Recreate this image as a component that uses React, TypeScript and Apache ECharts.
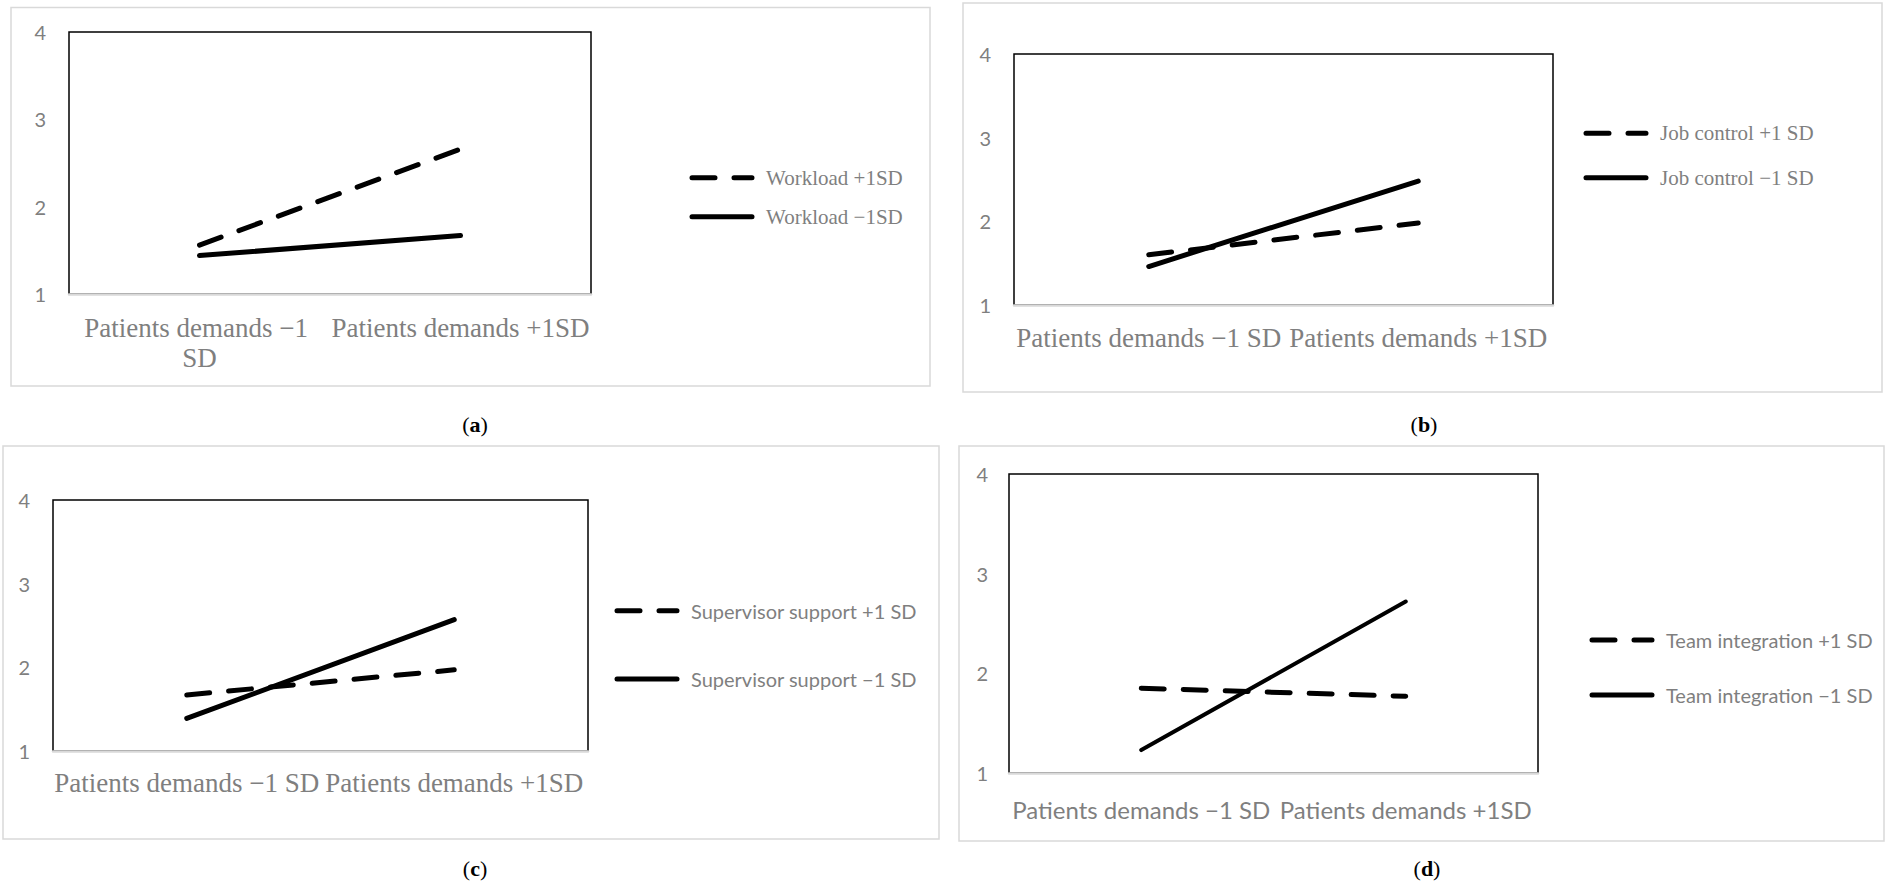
import React, { useEffect, useRef } from "react";
import * as echarts from "echarts";

// ---- data ----
const categories = ["Patients demands −1 SD", "Patients demands +1SD"];
const yMin = 1;
const yMax = 4;
const yStep = 1;

const workloadHigh = [1.56, 2.66];
const workloadLow = [1.44, 1.67];
const jobControlHigh = [1.6, 1.98];
const jobControlLow = [1.46, 2.48];
const supervisorHigh = [1.67, 1.97];
const supervisorLow = [1.39, 2.57];
const teamHigh = [1.85, 1.77];
const teamLow = [1.23, 2.72];

const namesA = ["Workload +1SD", "Workload −1SD"];
const namesB = ["Job control +1 SD", "Job control −1 SD"];
const namesC = ["Supervisor support +1 SD", "Supervisor support −1 SD"];
const namesD = ["Team integration +1 SD", "Team integration −1 SD"];
const captions = ["a", "b", "c", "d"];

// ---- layout ----
const SERIF = "'Liberation Serif', 'Times New Roman', serif";
const SANS = "Lato, 'Noto Sans', sans-serif";
const GRAY = "#7f7f7f";
const DASH = [23, 19];

const panels = [
  {
    high: workloadHigh, low: workloadLow, names: namesA,
    grid: { left: 69, top: 32, width: 522, height: 262 },
    frame: { x: 11, y: 7.5, width: 919, height: 378.5 },
    caption: { x: 475, y: 424 },
    legend: { left: 689.5, top: 165.7, gap: 15, font: SERIF, size: 21 },
    xFont: SERIF, xSize: 27, xMargin: 19, wrap: true, yLabelMargin: 23, lowWidth: 5,
  },
  {
    high: jobControlHigh, low: jobControlLow, names: namesB,
    grid: { left: 1014, top: 54, width: 539, height: 251 },
    frame: { x: 963, y: 3, width: 919, height: 389 },
    caption: { x: 1424, y: 424 },
    legend: { left: 1583.5, top: 121.3, gap: 20.4, font: SERIF, size: 21 },
    xFont: SERIF, xSize: 27, xMargin: 18, wrap: false, yLabelMargin: 23, lowWidth: 5,
  },
  {
    high: supervisorHigh, low: supervisorLow, names: namesC,
    grid: { left: 53, top: 500, width: 535, height: 251 },
    frame: { x: 3, y: 446, width: 936, height: 393 },
    caption: { x: 475, y: 868 },
    legend: { left: 614.5, top: 598.7, gap: 44.3, font: SANS, size: 20 },
    xFont: SERIF, xSize: 27, xMargin: 17, wrap: false, yLabelMargin: 23, lowWidth: 5,
  },
  {
    high: teamHigh, low: teamLow, names: namesD,
    grid: { left: 1009, top: 474, width: 529, height: 299 },
    frame: { x: 959, y: 446, width: 925, height: 395 },
    caption: { x: 1427, y: 868 },
    legend: { left: 1589.5, top: 628, gap: 31, font: SANS, size: 20 },
    xFont: SANS, xSize: 24, xMargin: 21, wrap: false, yLabelMargin: 21, lowWidth: 4,
  },
];

function buildOption() {
  const grid: any[] = [];
  const xAxis: any[] = [];
  const yAxis: any[] = [];
  const series: any[] = [];
  const legend: any[] = [];
  const graphic: any[] = [];

  panels.forEach((p, i) => {
    grid.push({
      ...p.grid,
      show: true,
      borderColor: "#000",
      borderWidth: 1.5,
      backgroundColor: "transparent",
      containLabel: false,
    });
    xAxis.push({
      type: "category",
      gridIndex: i,
      data: categories,
      boundaryGap: true,
      z: 5,
      axisTick: { show: false },
      axisLine: { show: true, lineStyle: { color: "#d9d9d9", width: 2.5 } },
      axisLabel: {
        interval: 0,
        color: GRAY,
        fontFamily: p.xFont,
        fontSize: p.xSize,
        lineHeight: 30,
        margin: p.xMargin,
        ...(p.wrap ? { width: 261, overflow: "break" } : {}),
      },
      splitLine: { show: false },
    });
    yAxis.push({
      type: "value",
      gridIndex: i,
      min: yMin,
      max: yMax,
      interval: yStep,
      axisLine: { show: false },
      axisTick: { show: false },
      splitLine: { show: false },
      axisLabel: { color: GRAY, fontFamily: SANS, fontSize: 20, margin: p.yLabelMargin },
    });
    series.push({
      type: "line",
      name: p.names[0],
      xAxisIndex: i,
      yAxisIndex: i,
      data: p.high,
      symbol: "none",
      silent: true,
      lineStyle: { color: "#000", width: 5, type: DASH, cap: "round" },
      itemStyle: { color: "#000" },
    });
    series.push({
      type: "line",
      name: p.names[1],
      xAxisIndex: i,
      yAxisIndex: i,
      data: p.low,
      symbol: "none",
      silent: true,
      lineStyle: { color: "#000", width: p.lowWidth, type: "solid", cap: "round" },
      itemStyle: { color: "#000" },
    });
    legend.push({
      data: p.names,
      orient: "vertical",
      left: p.legend.left,
      top: p.legend.top,
      itemGap: p.legend.gap,
      itemWidth: 60,
      itemHeight: 24,
      padding: 0,
      selectedMode: false,
      itemStyle: { opacity: 0 },
      lineStyle: { width: 5, color: "#000", cap: "round" },
      textStyle: {
        color: GRAY,
        fontFamily: p.legend.font,
        fontSize: p.legend.size,
        lineHeight: 24,
        padding: [0, 0, 0, 9],
      },
    });
    graphic.push({
      type: "rect",
      z: -1,
      shape: { ...p.frame },
      style: { fill: "none", stroke: "#d9d9d9", lineWidth: 1.5 },
      silent: true,
    });
    graphic.push({
      type: "text",
      x: p.caption.x,
      y: p.caption.y,
      silent: true,
      style: {
        text: "{p|(}{b|" + captions[i] + "}{p|)}",
        align: "center",
        verticalAlign: "middle",
        rich: {
          p: { fontFamily: SERIF, fontSize: 22, fill: "#000", color: "#000" },
          b: { fontFamily: SERIF, fontSize: 22, fontWeight: "bold", fill: "#000", color: "#000" },
        },
      },
    });
  });

  return {
    animation: false,
    backgroundColor: "#fff",
    grid,
    xAxis,
    yAxis,
    series,
    legend,
    graphic,
  };
}

export default function App() {
  const ref = useRef<HTMLDivElement>(null);
  useEffect(() => {
    if (!ref.current) return;
    const chart = echarts.init(ref.current, undefined, { renderer: "svg" });
    chart.setOption(buildOption() as any);
    return () => chart.dispose();
  }, []);
  return (
    <div
      ref={ref}
      style={{ position: "absolute", left: 0, top: 0, width: 1885, height: 887, background: "#fff" }}
    />
  );
}
